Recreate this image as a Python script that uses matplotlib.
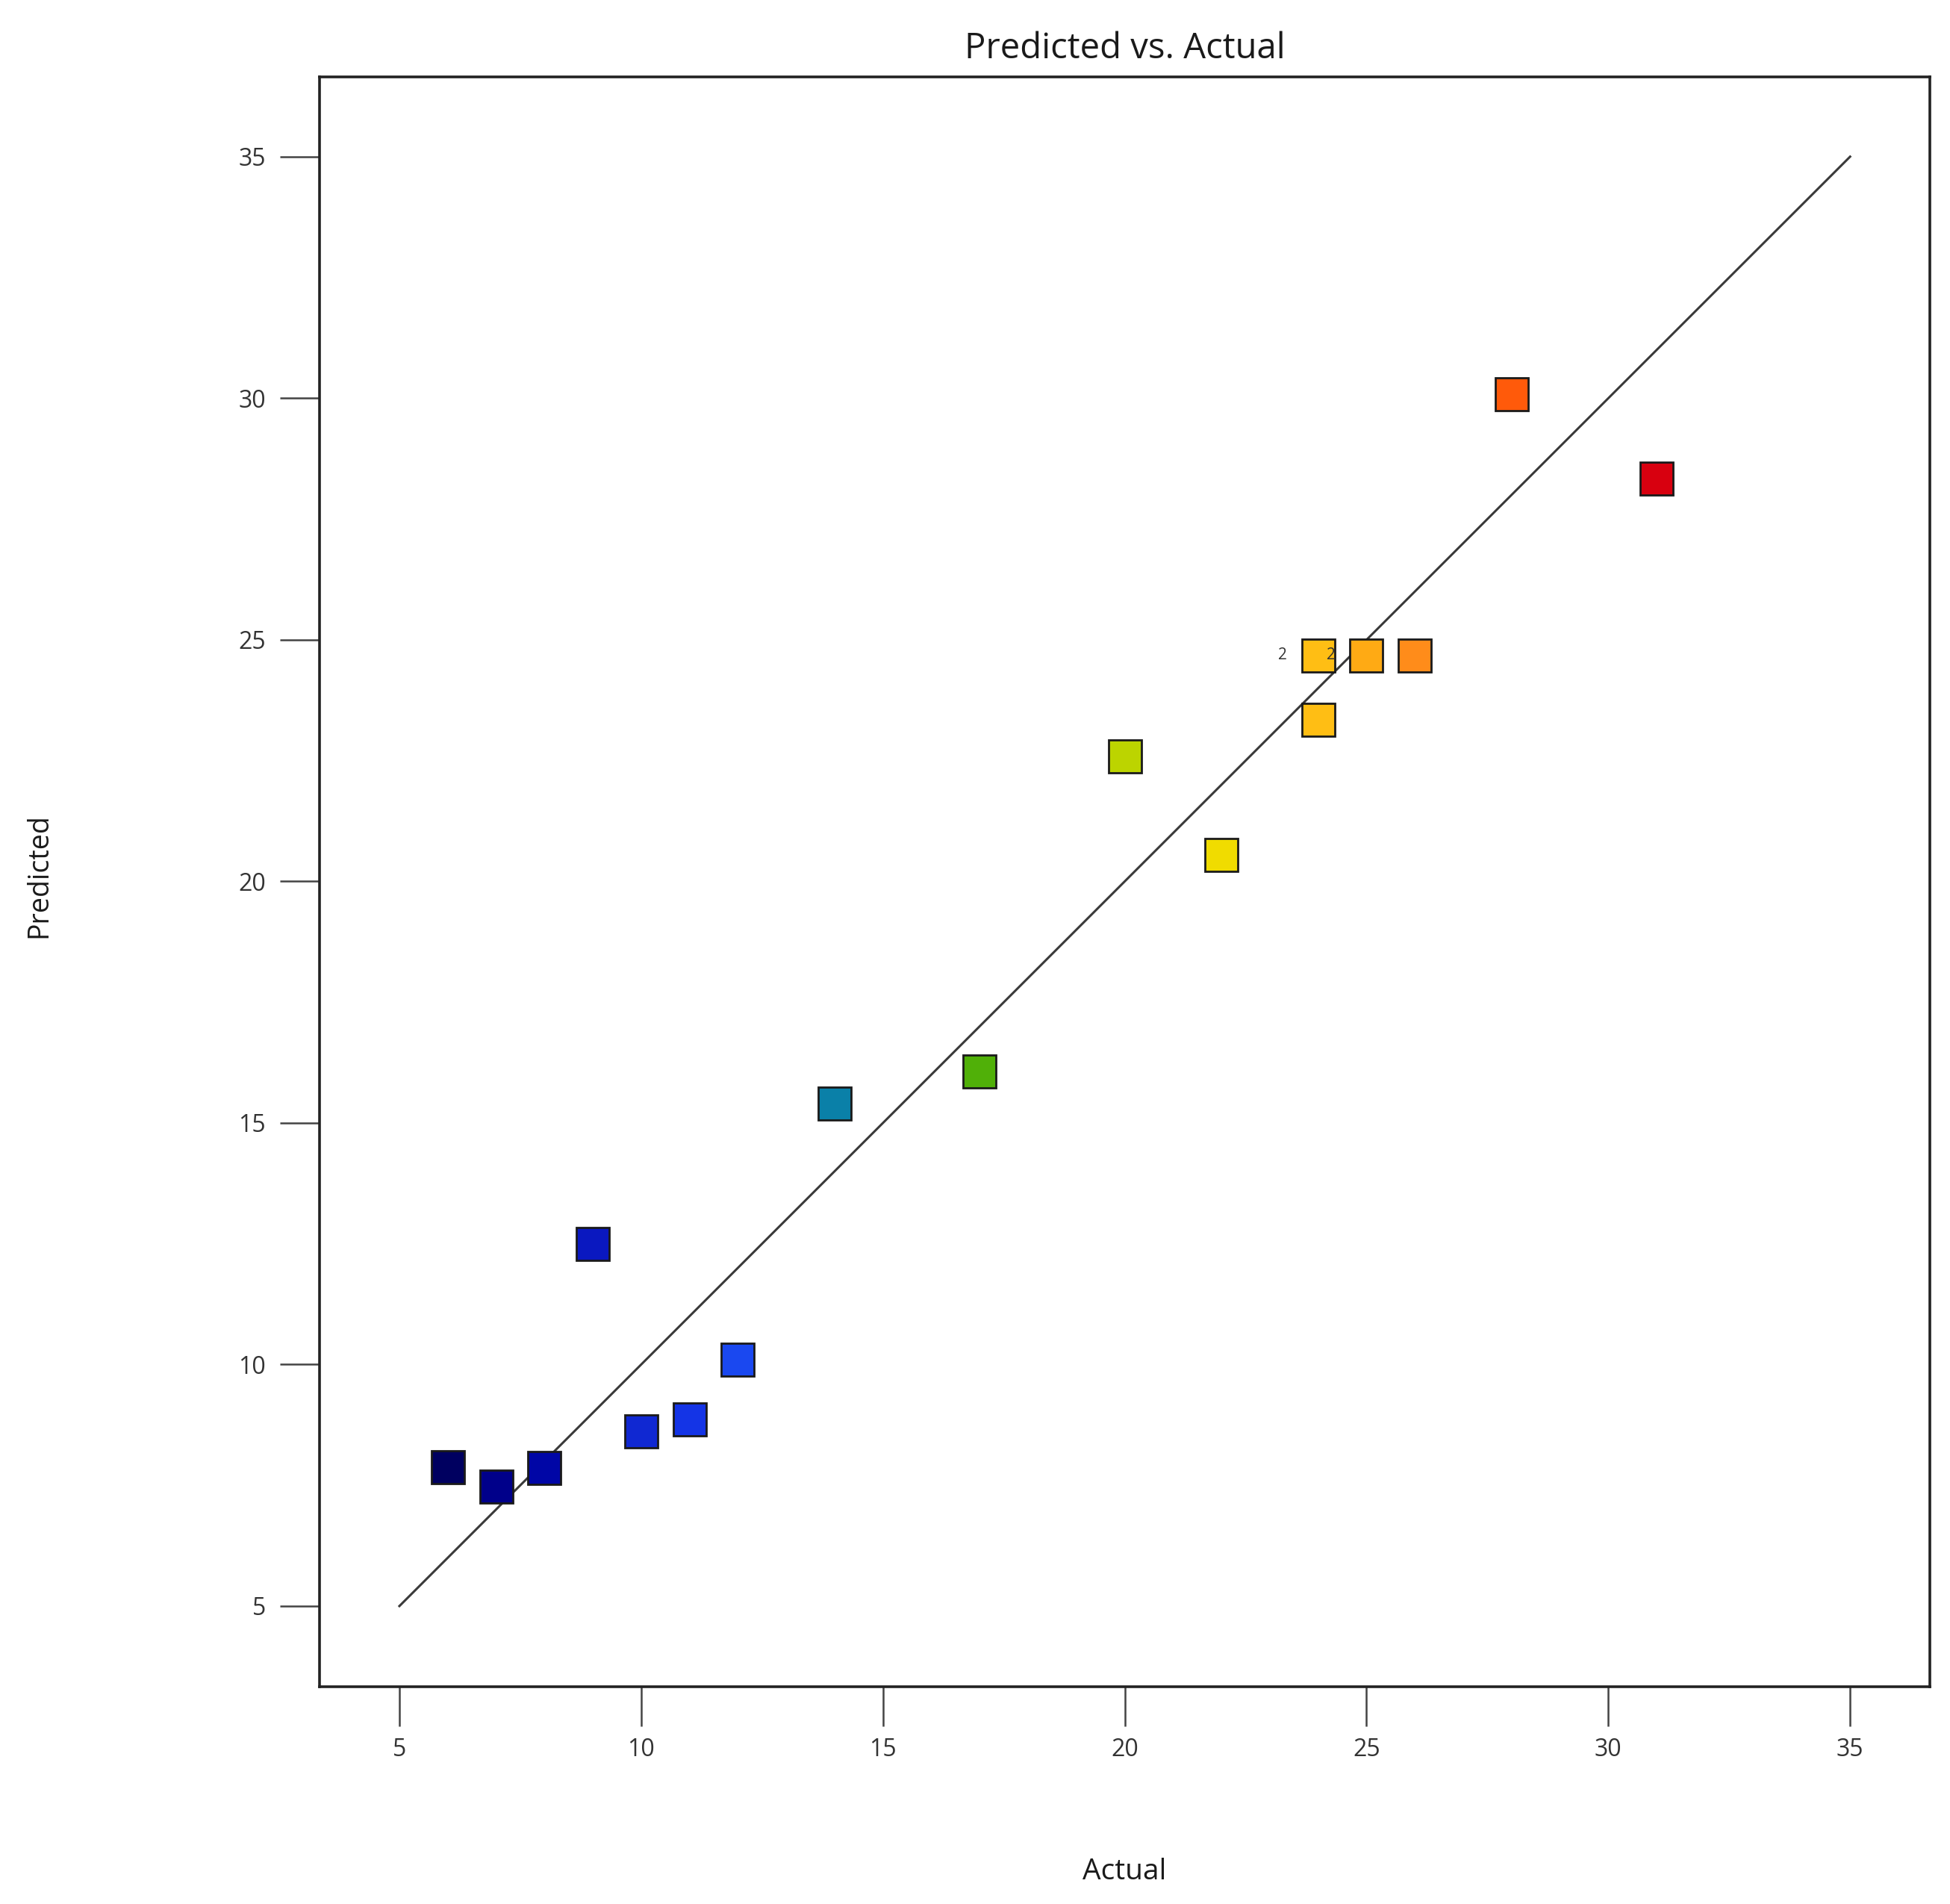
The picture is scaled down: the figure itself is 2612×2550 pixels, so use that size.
import matplotlib
matplotlib.use("Agg")
import matplotlib.pyplot as plt

plt.rcParams['font.family'] = ['Open Sans', 'DejaVu Sans']

# actual vs predicted values
actual = [6, 7, 8, 9, 10, 11, 12, 14, 17, 20, 22, 24, 24, 25, 26, 28, 31]
predicted = [7.88, 7.47, 7.86, 12.49, 8.61, 8.86, 10.1, 15.4, 16.07, 22.59,
             20.55, 23.34, 24.68, 24.68, 24.68, 30.08, 28.33]
point_colors = ['#000060', '#00008a', '#0006a6', '#0a18c0', '#1028d2', '#1434e6',
                '#1a48f0', '#0a80a8', '#50b008', '#bcd400', '#f0dc00', '#ffbe14',
                '#ffbe14', '#ffaa14', '#ff8c1a', '#ff5a0a', '#d8000f']
# points that sit on top of another run (count label)
dup_x = [24, 25]
dup_y = [24.68, 24.68]
dup_label = ['2', '2']

ticks = [5, 10, 15, 20, 25, 30, 35]

fig = plt.figure(figsize=(26.12, 25.5), dpi=100)
ax = fig.add_axes([0.1639, 0.1141, 0.8258, 0.8455])

ax.plot([5, 35], [5, 35], color='#3a3a3a', lw=2.2, zorder=1)

for x, y, c in zip(actual, predicted, point_colors):
    ax.plot(x, y, marker='s', markersize=31, markerfacecolor=c,
            markeredgecolor='#1a1a1a', markeredgewidth=2.0, linestyle='none', zorder=3)

for x, y, t in zip(dup_x, dup_y, dup_label):
    ax.text(x - 0.73, y, t, fontsize=15, color='#333333', ha='center', va='center', zorder=4)

ax.set_xlim(3.35, 36.65)
ax.set_ylim(3.33, 36.65)
ax.set_xticks(ticks)
ax.set_yticks(ticks)

for s in ax.spines.values():
    s.set_linewidth(2.6)
    s.set_color('#222222')

ax.tick_params(axis='both', length=38, width=1.8, color='#444444',
               labelsize=23, labelcolor='#333333')
ax.tick_params(axis='x', pad=11)
ax.tick_params(axis='y', pad=14)

ax.set_title('Predicted vs. Actual', fontsize=34, color='#1a1a1a', pad=18)
ax.set_xlabel('Actual', fontsize=28, color='#1a1a1a')
ax.set_ylabel('Predicted', fontsize=27, color='#1a1a1a')
ax.xaxis.label.set_va('center')
ax.yaxis.label.set_va('center')
ax.xaxis.set_label_coords(0.5, -0.115)
ax.yaxis.set_label_coords(-0.1744, 0.504)

fig.savefig('out.png', dpi=100)
plt.close()
